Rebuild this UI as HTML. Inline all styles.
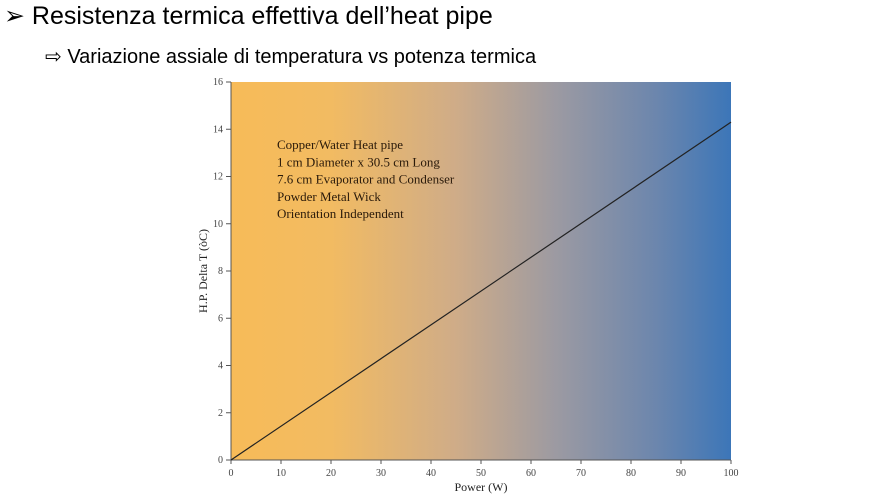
<!DOCTYPE html>
<html><head><meta charset="utf-8"><style>
body{margin:0;width:869px;height:496px;background:#fff;overflow:hidden;position:relative;font-family:"Liberation Sans",sans-serif}
.t1{position:absolute;left:4px;top:1px;font-size:25px;color:#000;white-space:nowrap}
.t2{position:absolute;left:45px;top:44px;font-size:20px;color:#000;white-space:nowrap}
svg{position:absolute;left:0;top:0}
</style></head><body>
<div class="t1">➢ Resistenza termica effettiva dell’heat pipe</div>
<div class="t2">⇨ Variazione assiale di temperatura vs potenza termica</div>
<svg width="869" height="496">
<defs><linearGradient id="g" x1="0" x2="1" y1="0" y2="0">
<stop offset="0" stop-color="#f7bb58"/><stop offset="0.2" stop-color="#f2bb62"/><stop offset="0.45" stop-color="#cfac88"/><stop offset="0.65" stop-color="#9c9aa2"/><stop offset="0.85" stop-color="#6c86ad"/><stop offset="1" stop-color="#3c76b8"/></linearGradient></defs>
<g id="plot"></g>
</svg>
<script>
const xTicks=[0,10,20,30,40,50,60,70,80,90,100];
const yTicks=[0,2,4,6,8,10,12,14,16];
const powerW=[0,100];
const deltaT=[0,14.3];
const X0=231,X1=731,Y0=460,Y1=82;
const sx=v=>X0+(v/100)*(X1-X0), sy=v=>Y0-(v/16)*(Y0-Y1);
const NS="http://www.w3.org/2000/svg", g=document.getElementById('plot');
function mk(t,a){const e=document.createElementNS(NS,t);for(const k in a)e.setAttribute(k,a[k]);g.appendChild(e);return e;}
const bg=mk('rect',{x:X0,y:Y1,width:X1-X0,height:Y0-Y1,fill:'url(#g)'});


const ax=mk('path',{d:`M${X0} ${Y1}V${Y0}H${X1}`,stroke:'#555',fill:'none','stroke-width':1});


xTicks.forEach(v=>{const x=sx(v);mk('line',{x1:x,x2:x,y1:Y0,y2:Y0+4,stroke:'#555'});
const t=mk('text',{x:x,y:Y0+16,'text-anchor':'middle','font-size':10,'font-family':'Liberation Serif,serif',fill:'#444'});t.textContent=v;

});
yTicks.forEach(v=>{const y=sy(v);mk('line',{x1:X0-5,x2:X0,y1:y,y2:y,stroke:'#555'});
const t=mk('text',{x:X0-8,y:y+3,'text-anchor':'end','font-size':10,'font-family':'Liberation Serif,serif',fill:'#444'});t.textContent=v;

});
const xt=mk('text',{x:(X0+X1)/2,y:491,'text-anchor':'middle','font-size':12,'font-family':'Liberation Serif,serif',fill:'#222'});xt.textContent='Power (W)';


const yt=mk('text',{x:0,y:0,transform:`translate(207,${(Y0+Y1)/2}) rotate(-90)`,'text-anchor':'middle','font-size':12,'font-family':'Liberation Serif,serif',fill:'#222'});yt.textContent='H.P. Delta T (òC)';


const ln=mk('polyline',{points:powerW.map((p,i)=>sx(p)+','+sy(deltaT[i])).join(' '),stroke:'#222',fill:'none','stroke-width':1.2});


['Copper/Water Heat pipe','1 cm Diameter x 30.5 cm Long','7.6 cm Evaporator and Condenser','Powder Metal Wick','Orientation Independent'].forEach((s,i)=>{
const t=mk('text',{x:277,y:149+i*17.3,'font-size':13,'font-family':'Liberation Serif,serif',fill:'#2a1a0a'});t.textContent=s;

});
</script>
</body></html>
